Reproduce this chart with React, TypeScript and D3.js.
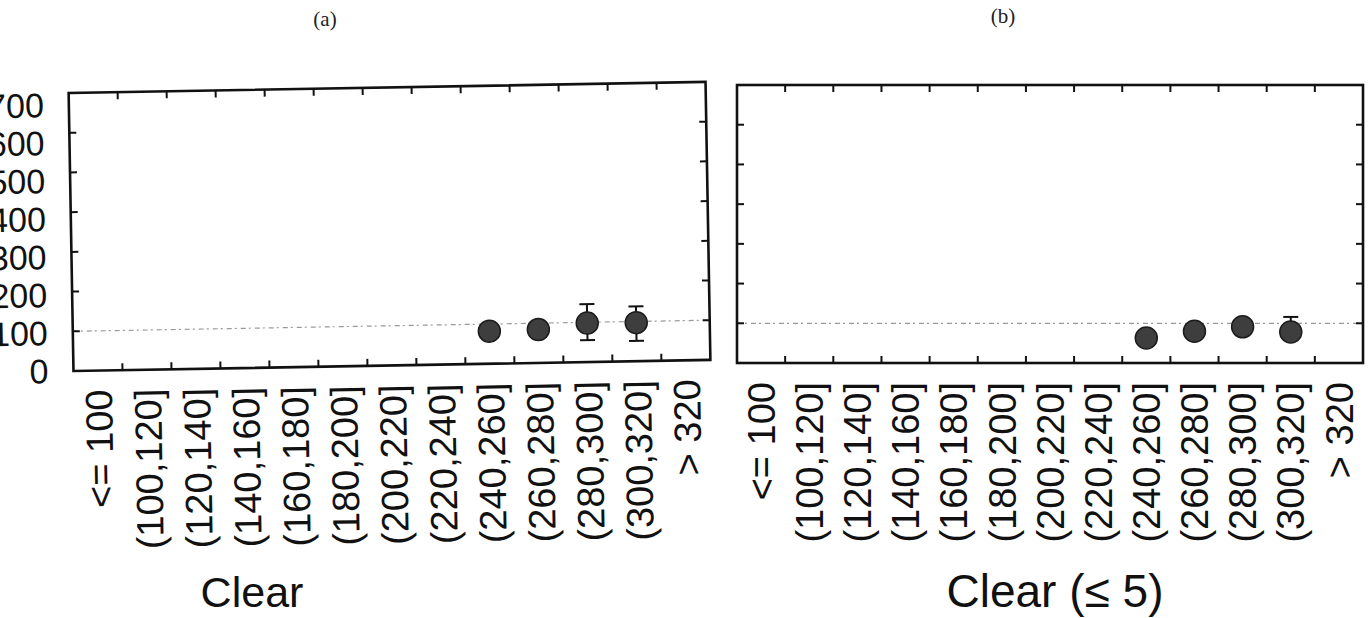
import React from 'react';
import * as d3 from 'd3';

// ---------- data ----------
const categories = [
  '<= 100', '(100,120]', '(120,140]', '(140,160]', '(160,180]', '(180,200]',
  '(200,220]', '(220,240]', '(240,260]', '(260,280]', '(280,300]', '(300,320]', '> 320',
];
const yTicks = [0, 100, 200, 300, 400, 500, 600, 700];
const refValue = 100;

const aCats = ['(240,260]', '(260,280]', '(280,300]', '(300,320]'];
const aMean = [82, 84, 98, 97];
const aErrLow = [12, 12, 43, 46];
const aErrHigh = [12, 12, 48, 41];

const bCats = ['(240,260]', '(260,280]', '(280,300]', '(300,320]'];
const bMean = [63, 80, 91, 78];
const bErrLow = [10, 10, 10, 20];
const bErrHigh = [10, 10, 10, 38];

const panelTitles = ['(a)', '(b)'];
const axisTitles = ['Clear', 'Clear (\u2264 5)'];

const SANS = '"Liberation Sans", Arial, Helvetica, sans-serif';
const SERIF = '"Liberation Serif", "Times New Roman", serif';

type PanelProps = {
  x0: number; x1: number; yTop: number; yBottom: number;
  cats: string[]; mean: number[]; lo: number[]; hi: number[];
  showYLabels: boolean; transform?: string;
};

function Panel({ x0, x1, yTop, yBottom, cats, mean, lo, hi, showYLabels, transform }: PanelProps) {
  const x = d3.scaleBand<string>().domain(categories).range([x0, x1]).padding(0);
  const y = d3.scaleLinear().domain([0, 700]).range([yBottom, yTop]);
  const yLab = d3.scaleLinear().domain([0, 700]).range([yBottom - 0.5, yTop + 11.5]);
  const bw = x.bandwidth();
  const tickLen = 7;
  const bounds = categories.slice(1).map((c) => x(c) as number);
  const innerY = yTicks.slice(1, -1);
  const r = 11;
  const cap = 7.5;
  return (
    <g transform={transform}>
      {/* reference line */}
      <line x1={x0} x2={x1} y1={y(refValue)} y2={y(refValue)} stroke="#999" strokeWidth={1.2} strokeDasharray="5 3 2 4" />
      {/* ticks */}
      {bounds.map((bx, i) => (
        <g key={'xt' + i} stroke="#111" strokeWidth={2}>
          <line x1={bx} x2={bx} y1={yBottom} y2={yBottom - tickLen} />
          <line x1={bx} x2={bx} y1={yTop} y2={yTop + tickLen} />
        </g>
      ))}
      {innerY.map((v, i) => (
        <g key={'yt' + i} stroke="#111" strokeWidth={2}>
          <line x1={x0} x2={x0 + tickLen} y1={y(v)} y2={y(v)} />
          <line x1={x1} x2={x1 - tickLen} y1={y(v)} y2={y(v)} />
        </g>
      ))}
      {/* frame */}
      <rect x={x0} y={yTop} width={x1 - x0} height={yBottom - yTop} fill="none" stroke="#111" strokeWidth={2.6} />
      {/* y labels */}
      {showYLabels && yTicks.map((v) => (
        <text key={'yl' + v} x={46} y={yLab(v)} dy="0.36em" textAnchor="end" fontFamily={SANS} fontSize={34} fill="#111">{v}</text>
      ))}
      {/* x labels */}
      {categories.map((c) => {
        const cx = (x(c) as number) + bw / 2;
        const ty = yBottom + 19;
        return (
          <text key={'xl' + c} x={cx} y={ty} dy="0.36em" textAnchor="end" transform={`rotate(-90, ${cx}, ${ty})`} fontFamily={SANS} fontSize={38} fill="#111">{c}</text>
        );
      })}
      {/* points */}
      {cats.map((c, i) => {
        const cx = (x(c) as number) + bw / 2;
        const yt = y(mean[i] + hi[i]);
        const yb = y(mean[i] - lo[i]);
        return (
          <g key={'p' + c}>
            <g stroke="#111" strokeWidth={2}>
              <line x1={cx} x2={cx} y1={yt} y2={yb} />
              <line x1={cx - cap} x2={cx + cap} y1={yt} y2={yt} />
              <line x1={cx - cap} x2={cx + cap} y1={yb} y2={yb} />
            </g>
            <circle cx={cx} cy={y(mean[i])} r={r} fill="#3e3e3e" stroke="#1c1c1c" strokeWidth={1.5} />
          </g>
        );
      })}
    </g>
  );
}

export default function App() {
  return (
    <svg width={1370} height={618} style={{ position: 'absolute', left: 0, top: 0, background: '#fff' }}>
      <rect x={0} y={0} width={1370} height={618} fill="#fff" />
      <Panel x0={71} x1={708} yTop={87.5} yBottom={365.5} cats={aCats} mean={aMean} lo={aErrLow} hi={aErrHigh}
        showYLabels={true} transform="rotate(-1, 388, 226)" />
      <Panel x0={737} x1={1363} yTop={85} yBottom={363} cats={bCats} mean={bMean} lo={bErrLow} hi={bErrHigh}
        showYLabels={false} />
      <text x={325} y={19} dy="0.35em" textAnchor="middle" fontFamily={SERIF} fontSize={21} fill="#222">{panelTitles[0]}</text>
      <text x={1003} y={16} dy="0.35em" textAnchor="middle" fontFamily={SERIF} fontSize={21} fill="#222">{panelTitles[1]}</text>
      <text x={252} y={607} textAnchor="middle" fontFamily={SANS} fontSize={43} fill="#111">{axisTitles[0]}</text>
      <text x={1055} y={607} textAnchor="middle" fontFamily={SANS} fontSize={46} fill="#111">{axisTitles[1]}</text>
    </svg>
  );
}
